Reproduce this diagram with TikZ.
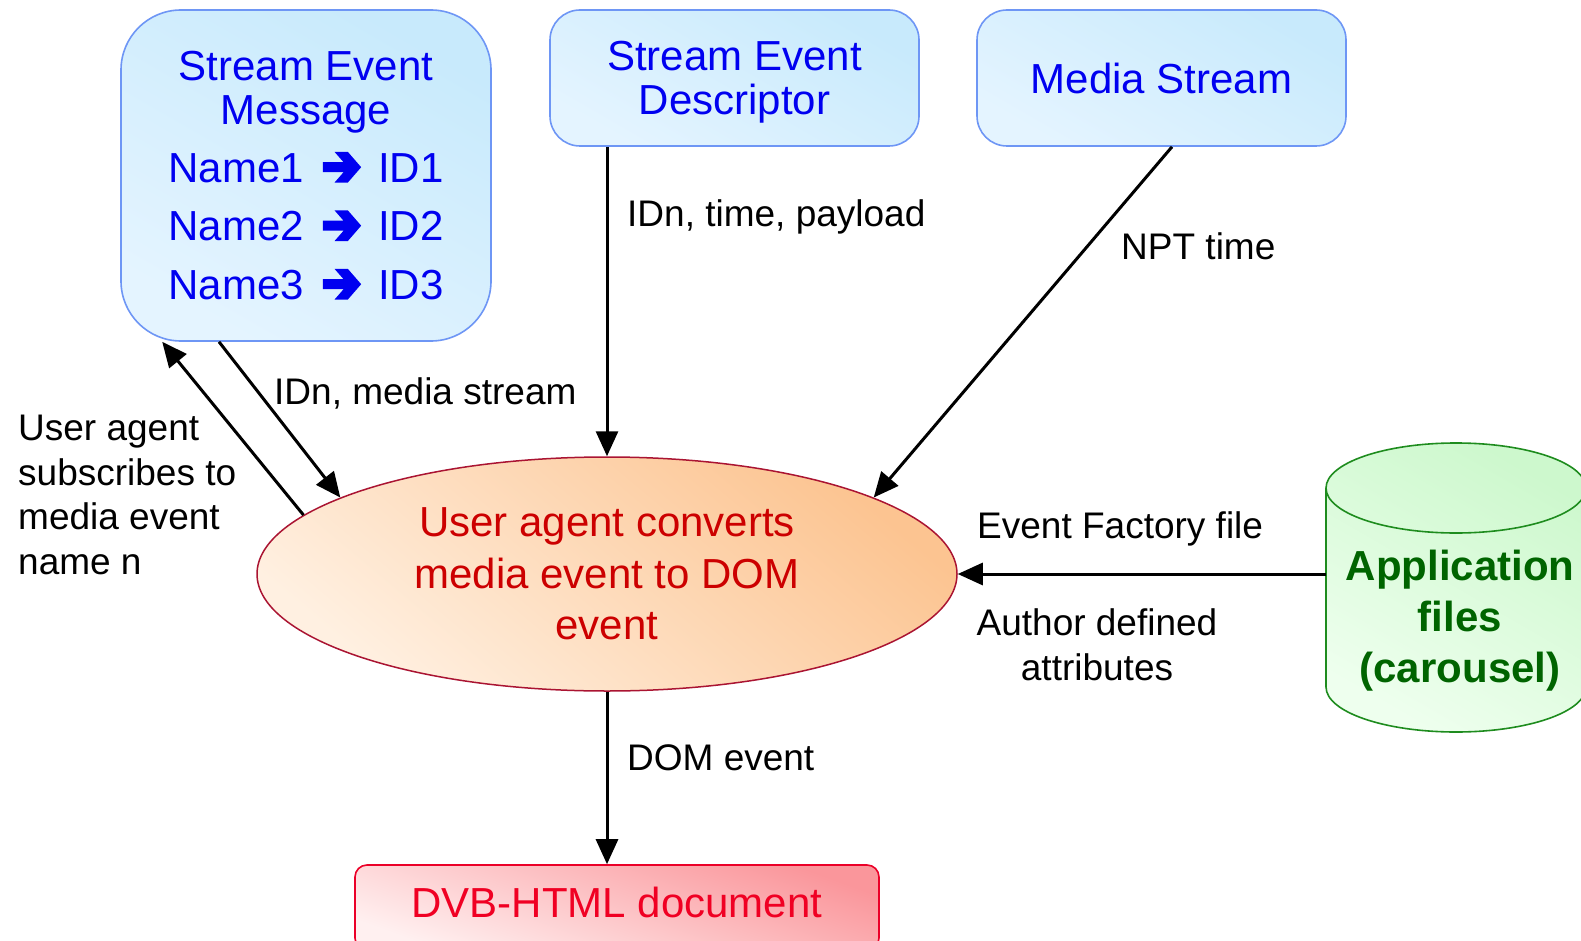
\documentclass[tikz,border=0pt]{standalone}
\usepackage{fontspec}
\setmainfont{Liberation Sans}
\usetikzlibrary{shapes.geometric,arrows.meta,calc}

\definecolor{boxedge}{RGB}{110,150,245}
\definecolor{boxtop}{RGB}{200,234,252}
\definecolor{boxbottom}{RGB}{228,244,255}
\definecolor{txtblue}{RGB}{0,0,240}
\definecolor{ovaledge}{RGB}{170,20,50}
\definecolor{ovaltop}{RGB}{252,196,145}
\definecolor{ovalbottom}{RGB}{255,240,225}
\definecolor{ovaltext}{RGB}{204,0,0}
\definecolor{docedge}{RGB}{235,0,40}
\definecolor{doctop}{RGB}{250,150,155}
\definecolor{docbottom}{RGB}{255,240,240}
\definecolor{doctext}{RGB}{240,0,35}
\definecolor{cyledge}{RGB}{30,140,30}
\definecolor{cyltop}{RGB}{205,248,205}
\definecolor{cylbottom}{RGB}{238,255,238}
\definecolor{cyltext}{RGB}{0,100,0}

% heavy chevron-headed arrow used in the name-to-id mappings
\newcommand{\heavyarrow}{\tikz[baseline=0pt,x=1pt,y=1pt,sharp corners]
  \fill[txtblue,sharp corners,draw=none] (0,20) -- (20.7,20) -- (11.7,30.3) -- (25,30.3) -- (38.3,15)
  -- (25,-0.3) -- (11.7,-0.3) -- (20.7,10) -- (0,10) -- cycle;}
\newcommand{\mapline}[2]{#1\hspace{19pt}\heavyarrow\hspace{17pt}#2}

\begin{document}
\begin{tikzpicture}[x=1pt,y=1pt,
  flow/.style={line width=3pt,-{Triangle[length=25pt,width=22pt]}},
  bluebox/.style={draw=boxedge,line width=1.6pt,top color=boxtop,bottom color=boxbottom,
    shading angle=-30,text=txtblue,align=center,inner sep=0pt,
    font=\fontsize{42}{43.5}\selectfont},
  lbl/.style={inner sep=0pt,font=\fontsize{37}{44.5}\selectfont},
]
\useasboundingbox (0,0) rectangle (1581,-941);

% source boxes
\node[bluebox,rounded corners=60pt,minimum width=370pt,minimum height=331pt]
  (msg) at (306,-175.5)
  {Stream Event\\Message\\[14.5pt]\mapline{Name1}{ID1}\\[15pt]\mapline{Name2}{ID2}\\[15pt]\mapline{Name3}{ID3}};
\node[bluebox,rounded corners=30pt,minimum width=369pt,minimum height=136pt,text depth=0pt]
  (desc) at (734.5,-78) {Stream Event\\Descriptor};
\node[bluebox,rounded corners=30pt,minimum width=369pt,minimum height=136pt]
  (media) at (1161.5,-78) {Media Stream};

% converter
\node[ellipse,draw=ovaledge,line width=1.5pt,top color=ovaltop,bottom color=ovalbottom,
  shading angle=-40,minimum width=700pt,minimum height=234pt,inner sep=0pt,
  text=ovaltext,align=center,font=\fontsize{42}{51.5}\selectfont]
  (conv) at (607,-574) {User agent converts\\media event to DOM\\event};

% output document
\node[draw=docedge,line width=1.6pt,rounded corners=12pt,top color=doctop,bottom color=docbottom,
  shading angle=-20,minimum width=524pt,minimum height=85pt,inner sep=0pt,
  text=doctext,text height=30pt,text depth=11pt,font=\fontsize{42}{50}\selectfont]
  (doc) at (617,-907.5) {DVB-HTML document};

% application files store
\path[draw=cyledge,line width=1.6pt,top color=cyltop,bottom color=cylbottom,shading angle=-30]
  (1326,-488) -- (1326,-687) arc[start angle=180,end angle=360,x radius=130,y radius=45]
  -- (1586,-488) arc[start angle=0,end angle=180,x radius=130,y radius=45] -- cycle;
\draw[cyledge,line width=1.6pt] (1326,-488) arc[start angle=180,end angle=360,x radius=130,y radius=45];
\node[align=center,inner sep=0pt,text=cyltext,font=\fontsize{42}{51}\selectfont\bfseries]
  (app) at (1460,-621) {Application\\files\\(carousel)};
\coordinate (cylw) at (1326,-574);

% connectors
\draw[flow] (desc.south -| conv.north) -- (conv.north);
\draw[flow] ($(media.south)+(10.5,0)$) -- (conv.16);
\draw[flow] ($(msg.south)+(-87,0)$) -- (conv.164);
\draw[flow] (conv.169) -- ($(msg.south west)+(42,0)$);
\draw[flow] (cylw) -- (conv.east);
\draw[flow] (conv.south) -- (conv.south |- doc.north);

% connector labels
\node[lbl,anchor=base west] (lidt) at (627,-227) {IDn, time, payload};
\node[lbl,anchor=base west] (lnpt) at (1121,-260) {NPT time};
\node[lbl,anchor=base west] (lidm) at (274,-404) {IDn, media stream};
\node[lbl,anchor=north west,align=left] (lsub) at (18,-415)
  {User agent\\subscribes to\\media event\\name n};
\node[lbl,anchor=base west] (lfac) at (977,-538) {Event Factory file};
\node[lbl,anchor=north,align=center] (lauth) at (1097,-608.5) {Author defined\\attributes};
\node[lbl,anchor=base west] (ldom) at (627,-770) {DOM event};
\end{tikzpicture}
\end{document}
